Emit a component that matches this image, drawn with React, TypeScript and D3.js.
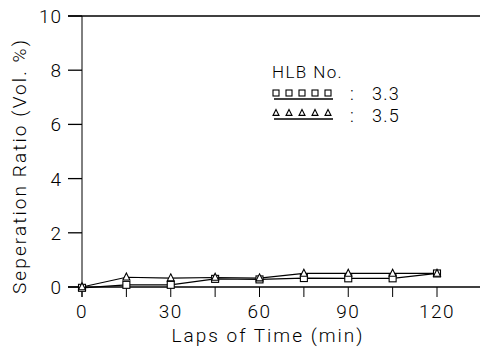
import React from "react";
import * as d3 from "d3";

const times = [0, 15, 30, 45, 60, 75, 90, 105, 120];
const hlb33 = [-0.03, 0.08, 0.08, 0.3, 0.28, 0.33, 0.32, 0.32, 0.5];
const hlb35 = [0.0, 0.36, 0.33, 0.35, 0.33, 0.5, 0.5, 0.5, 0.5];
const yTicks = [0, 2, 4, 6, 8, 10];
const xTicks = [0, 30, 60, 90, 120];
const xMinorTicks = [15, 45, 75, 105];
const legendTitle = "HLB No.";
const legendLabels = ["3.3", "3.5"];

const W = 480;
const H = 351;
const FONT = "Roboto, 'Liberation Sans', Arial, sans-serif";
const FW = 300;

export default function App() {
  const x = d3.scaleLinear().domain([0, 120]).range([82, 437]);
  const y = d3.scaleLinear().domain([0, 10]).range([287, 16]);
  const line = d3
    .line<number>()
    .x((_, i) => x(times[i]))
    .y((d) => y(d));

  const sq = (cx: number, cy: number, s: number, k: string) => (
    <rect key={k} x={cx - s / 2} y={cy - s / 2} width={s} height={s} fill="white" stroke="black" strokeWidth={1.1} />
  );
  const tri = (cx: number, cy: number, s: number, k: string) => {
    const p = d3.path();
    p.moveTo(cx, cy - s * 0.6);
    p.lineTo(cx + s / 2, cy + s * 0.4);
    p.lineTo(cx - s / 2, cy + s * 0.4);
    p.closePath();
    return <path key={k} d={p.toString()} fill="white" stroke="black" strokeWidth={1.1} />;
  };

  const legX = 272;
  const legRows = [{ sym: 93, line: 99, base: 100 }, { sym: 113, line: 119, base: 122 }];
  const txt = { fontFamily: FONT, fontWeight: FW } as const;

  return (
    <svg width={W} height={H} style={{ position: "absolute", left: 0, top: 0, background: "white" }}>
      <line x1={68} x2={480} y1={y(10)} y2={y(10)} stroke="black" strokeWidth={1.5} />
      <line x1={68} x2={480} y1={y(0)} y2={y(0)} stroke="black" strokeWidth={1.3} />
      <line x1={x(0)} x2={x(0)} y1={y(10)} y2={y(0) + 10} stroke="black" strokeWidth={1} />
      {yTicks.map((t) => (
        <g key={"y" + t}>
          <line x1={68} x2={x(0)} y1={y(t)} y2={y(t)} stroke="black" strokeWidth={1.3} />
          <text x={62} y={y(t) + 7} textAnchor="end" {...txt} fontSize={19} letterSpacing={1}>
            {t}
          </text>
        </g>
      ))}
      {xTicks.concat(xMinorTicks).map((t) => (
        <line key={"xt" + t} x1={x(t)} x2={x(t)} y1={y(0)} y2={y(0) + 10} stroke="black" strokeWidth={1} />
      ))}
      {xTicks.map((t) => (
        <text key={"xl" + t} x={x(t)} y={318} textAnchor="middle" {...txt} fontSize={19} letterSpacing={1.5}>
          {t}
        </text>
      ))}
      <text x={268} y={342} textAnchor="middle" {...txt} fontSize={19} letterSpacing={2}>
        Laps of Time (min)
      </text>
      <text transform={`translate(26,166) rotate(-90)`} textAnchor="middle" {...txt} fontSize={19} letterSpacing={2.1}>
        Seperation Ratio (Vol. %)
      </text>
      <path d={line(hlb33) || ""} fill="none" stroke="black" strokeWidth={1.2} />
      <path d={line(hlb35) || ""} fill="none" stroke="black" strokeWidth={1.2} />
      {hlb33.map((v, i) => sq(x(times[i]), y(v), 7, "s" + i))}
      {hlb35.map((v, i) => tri(x(times[i]), y(v), 7, "t" + i))}
      <text x={legX} y={78} {...txt} fontSize={17} letterSpacing={1.4}>
        {legendTitle}
      </text>
      {legendLabels.map((lab, r) => {
        const row = legRows[r];
        return (
          <g key={"lg" + r}>
            <line x1={legX + 2} x2={legX + 61} y1={row.line} y2={row.line} stroke="black" strokeWidth={1.3} />
            {[0, 1, 2, 3, 4].map((k) =>
              r === 0 ? sq(legX + 4 + k * 13, row.sym, 6, "ls" + k) : tri(legX + 4 + k * 13, row.sym, 6, "lt" + k)
            )}
            <text x={legX + 78} y={row.base} {...txt} fontSize={18}>
              :
            </text>
            <text x={legX + 100} y={row.base} {...txt} fontSize={18} letterSpacing={1.2}>
              {lab}
            </text>
          </g>
        );
      })}
    </svg>
  );
}
